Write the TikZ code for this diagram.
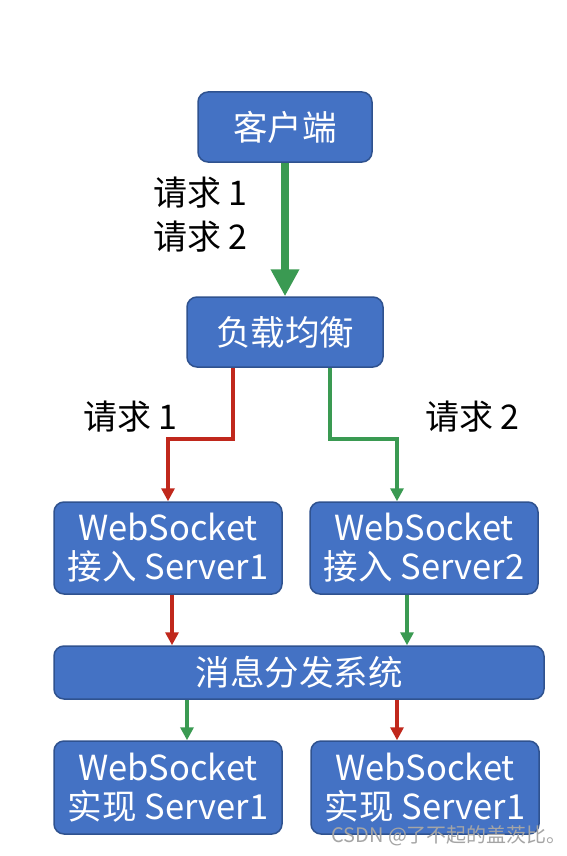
\documentclass[tikz,border=0pt]{standalone}
\usepackage{fontspec}
\setmainfont{Noto Sans CJK SC}
\usetikzlibrary{arrows.meta}
\definecolor{boxblue}{RGB}{68,114,196}
\definecolor{boxedge}{RGB}{47,82,143}
\definecolor{agreen}{RGB}{58,154,82}
\definecolor{ared}{RGB}{192,40,28}
\definecolor{wmgray}{RGB}{165,165,165}
\begin{document}
\begin{tikzpicture}[x=1pt,y=-1pt,
  box/.style={draw=boxedge, line width=1.5pt, fill=boxblue, rounded corners=10pt,
    text=white, font=\fontsize{34.5}{39}\selectfont, align=center, inner sep=0pt},
  lbl/.style={font=\fontsize{34}{36}\selectfont, text=black, inner sep=0pt, anchor=west},
  flow/.style={line width=3.5pt, -{Triangle[length=13pt,width=13pt]}}]
\useasboundingbox (0,0) rectangle (566,856);
\node[box, minimum width=174pt, minimum height=70pt] (client) at (285,127) {客户端};
\node[box, minimum width=196pt, minimum height=70pt] (lb) at (285,332) {负载均衡};
\node[box, minimum width=228pt, minimum height=92pt] (ws1) at (168,548) {WebSocket\\接入 Server1};
\node[box, minimum width=228pt, minimum height=92pt] (ws2) at (424,548) {WebSocket\\接入 Server2};
\node[box, minimum width=490pt, minimum height=53pt] (msg) at (299,672.5) {消息分发系统};
\node[box, minimum width=228pt, minimum height=93pt] (im1) at (168,787.5) {WebSocket\\实现 Server1};
\node[box, minimum width=228pt, minimum height=93pt] (im2) at (425,787.5) {WebSocket\\实现 Server1};

\node[lbl] (q1a) at (153,193) {请求 1};
\node[lbl] (q2a) at (153,237) {请求 2};
\node[lbl] (q1b) at (83,417) {请求 1};
\node[lbl] (q2b) at (425,417) {请求 2};

\draw[agreen, line width=8pt, -{Triangle[length=27pt,width=27pt]}] (client.south) -- (lb.north);
\draw[ared, flow] ([xshift=-52pt]lb.south) -- ++(0,71) -| (ws1.north);
\draw[agreen, flow] ([xshift=45pt]lb.south) -- ++(0,71) -| ([xshift=-27pt]ws2.north);
\draw[ared, flow] ([xshift=4pt]ws1.south) -- ([xshift=4pt]ws1.south |- msg.north);
\draw[agreen, flow] ([xshift=-17pt]ws2.south) -- ([xshift=-17pt]ws2.south |- msg.north);
\draw[agreen, flow] ([xshift=19pt]im1.north |- msg.south) -- ([xshift=19pt]im1.north);
\draw[ared, flow] ([xshift=-28pt]im2.north |- msg.south) -- ([xshift=-28pt]im2.north);

\node[text=wmgray, font=\fontsize{20}{22}\selectfont, anchor=west, inner sep=0pt] (wm) at (331,836) {CSDN @了不起的盖茨比。};
\end{tikzpicture}
\end{document}
